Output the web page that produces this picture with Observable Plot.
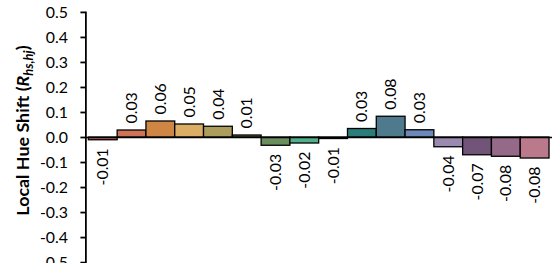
<!DOCTYPE html>
<html><head><meta charset="utf-8">
<script src="https://cdn.jsdelivr.net/npm/d3@7"></script>
<script src="https://cdn.jsdelivr.net/npm/@observablehq/plot@0.6"></script>
<style>
html,body{margin:0;padding:0;overflow:hidden;background:#fff;width:552px;height:263px}
#chart{position:relative;width:552px;height:263px;overflow:hidden}
#chart svg{display:block}
</style></head><body><div id="chart"></div>
<script>
const bins = [1, 2, 3, 4, 5, 6, 7, 8, 9, 10, 11, 12, 13, 14, 15, 16];
const values = [-0.011, 0.028, 0.064, 0.052, 0.043, 0.008, -0.033, -0.024, -0.006, 0.034, 0.083, 0.029, -0.039, -0.071, -0.077, -0.084];
const labels = ["-0.01", "0.03", "0.06", "0.05", "0.04", "0.01", "-0.03", "-0.02", "-0.01", "0.03", "0.08", "0.03", "-0.04", "-0.07", "-0.08", "-0.08"];
const colors = ["#c0605f", "#cd7358", "#cf8645", "#dcae65", "#ad9d5c", "#7d7d45", "#6a8e5c", "#4fb08c", "#3e9a6a", "#2a7d78", "#4f7a8e", "#6b89b8", "#9a8ab0", "#735479", "#956a88", "#bb7a8c"];
const yTicks = [-0.5, -0.4, -0.3, -0.2, -0.1, 0, 0.1, 0.2, 0.3, 0.4, 0.5];

const data = bins.map((b, i) => ({bin: b, value: values[i], label: labels[i]}));
const pos = data.filter(d => d.value >= 0);
const neg = data.filter(d => d.value < 0);

const font = "Lato, 'Open Sans', sans-serif";
const fs = 16;

const plot = Plot.plot({
  width: 556,
  height: 282,
  marginLeft: 86,
  marginRight: 0,
  marginTop: 12,
  marginBottom: 18,
  style: {fontFamily: font, fontSize: fs + "px", color: "black", background: "white"},
  x: {type: "band", domain: bins, padding: 0, axis: null},
  y: {domain: [-0.5, 0.5], axis: null},
  color: {domain: bins, range: colors},
  marks: [
    Plot.barY(data, {x: "bin", y: "value", fill: "bin", stroke: "black", strokeWidth: 1.3}),
    Plot.ruleY([0], {stroke: "black", strokeWidth: 1.3}),
    Plot.text(pos, {x: "bin", y: "value", text: "label", rotate: -90, textAnchor: "start", dy: -7, fill: "black", fontSize: fs}),
    Plot.text(neg, {x: "bin", y: "value", text: "label", rotate: -90, textAnchor: "end", dy: 8, fill: "black", fontSize: fs}),
    Plot.axisY({ticks: yTicks, tickFormat: d => d.toFixed(1), tickSize: 5, tickPadding: 13, strokeWidth: 1.8, fontSize: fs, label: null}),
    Plot.frame({anchor: "left", stroke: "black", strokeWidth: 1.8})
  ]
});
document.getElementById("chart").appendChild(plot);

const svg = d3.select(plot);
const t = svg.append("text")
  .attr("transform", "translate(29,131.5) rotate(-90)")
  .attr("text-anchor", "middle")
  .attr("font-family", font)
  .attr("font-weight", "bold")
  .attr("font-size", 18)
  .attr("fill", "black");
t.append("tspan").text("Local Hue Shift (");
t.append("tspan").attr("font-style", "italic").text("R");
t.append("tspan").attr("font-style", "italic").attr("font-size", 13).attr("dy", 4).text("hs,hj");
t.append("tspan").attr("dy", -4).text(")");
</script></body></html>
